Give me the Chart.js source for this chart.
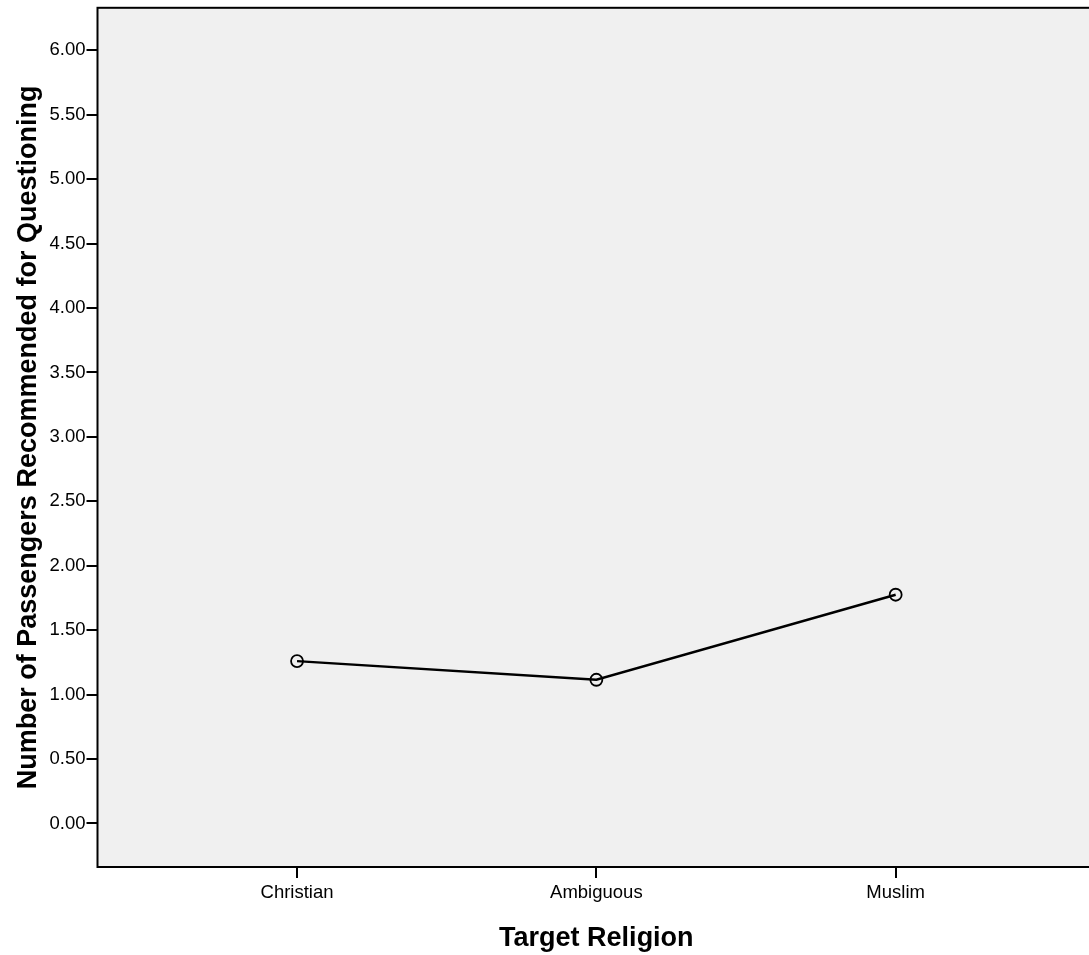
<!DOCTYPE html>
<html>
<head>
<meta charset="utf-8">
<script src="https://cdn.jsdelivr.net/npm/chart.js@4"></script>
<style>
html,body{margin:0;padding:0;background:#fff;overflow:hidden;}
#wrap{width:1089px;height:955px;overflow:hidden;position:relative;}
canvas{display:block;}
</style>
</head>
<body>
<div id="wrap"><canvas id="c" width="1103" height="955"></canvas></div>
<script>
const categories = ["Christian", "Ambiguous", "Muslim"];
const meanValues = [1.26, 1.115, 1.775];
const yTickValues = [0, 0.5, 1, 1.5, 2, 2.5, 3, 3.5, 4, 4.5, 5, 5.5, 6];
const xTitle = "Target Religion";
const yTitle = "Number of Passengers Recommended for Questioning";

const FONT = "'Liberation Sans', Arial, Helvetica, sans-serif";

const plotBg = {
  id: 'plotBg',
  beforeDraw(chart) {
    const {ctx, chartArea: a} = chart;
    ctx.save();
    ctx.fillStyle = '#f0f0f0';
    ctx.fillRect(a.left, a.top, a.right - a.left, a.bottom - a.top);
    ctx.restore();
  },
  afterDraw(chart) {
    const {ctx, chartArea: a} = chart;
    ctx.save();
    ctx.strokeStyle = '#000';
    ctx.lineWidth = 2;
    ctx.strokeRect(a.left, a.top, a.right - a.left, a.bottom - a.top);
    ctx.restore();
  }
};

new Chart(document.getElementById('c'), {
  type: 'line',
  data: {
    datasets: [{
      data: categories.map((c, i) => ({x: i, y: meanValues[i]})),
      borderColor: '#000',
      borderWidth: 2.4,
      pointRadius: 6,
      pointBorderWidth: 1.8,
      pointBorderColor: '#000',
      pointBackgroundColor: 'rgba(0,0,0,0)',
      tension: 0,
      fill: false
    }]
  },
  options: {
    responsive: false,
    animation: false,
    events: [],
    layout: {padding: {top: 5.5, left: 0, right: 0, bottom: 0}},
    plugins: {legend: {display: false}, tooltip: {enabled: false}},
    scales: {
      x: {
        type: 'linear',
        min: -0.6667,
        max: 2.6667,
        afterBuildTicks(scale) { scale.ticks = categories.map((c, i) => ({value: i})); },
        afterFit(scale) { scale.height = 88; scale.paddingLeft = 0; scale.paddingRight = 0; },
        grid: {display: true, drawOnChartArea: false, drawTicks: true, tickLength: 11, color: '#000', lineWidth: 2},
        border: {display: false},
        ticks: {
          color: '#000',
          font: {family: FONT, size: 18.5},
          padding: 4,
          maxRotation: 0,
          callback: (v) => categories[v]
        },
        title: {
          display: true,
          text: xTitle,
          color: '#000',
          font: {family: FONT, size: 27, weight: 'bold'},
          padding: {top: 8, bottom: 0}
        }
      },
      y: {
        type: 'linear',
        min: -0.338,
        max: 6.33,
        afterBuildTicks(scale) { scale.ticks = yTickValues.map(v => ({value: v})); },
        afterFit(scale) { scale.width = 97.5; scale.paddingTop = 0; scale.paddingBottom = 0; },
        grid: {display: true, drawOnChartArea: false, drawTicks: true, tickLength: 11, color: '#000', lineWidth: 2},
        border: {display: false},
        ticks: {
          color: '#000',
          font: {family: FONT, size: 18.5},
          padding: 1,
          callback: (v) => Number(v).toFixed(2)
        },
        title: {
          display: true,
          text: yTitle,
          color: '#000',
          font: {family: FONT, size: 27, weight: 'bold'},
          padding: {top: 12, bottom: 0}
        }
      }
    }
  },
  plugins: [plotBg]
});
</script>
</body>
</html>
